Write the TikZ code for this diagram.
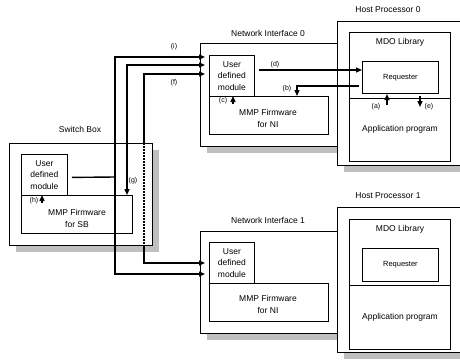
\documentclass[tikz,border=0pt]{standalone}
\usepackage{fontspec}
\setmainfont{Liberation Sans}
\usetikzlibrary{arrows.meta}

\begin{document}
\begin{tikzpicture}[x=1pt,y=-1pt,
  frame/.style={draw=black, line width=0.8pt, fill=white, inner sep=0pt, anchor=north west},
  shade/.style={fill=black!25, draw=none},
  lbl/.style={font=\fontsize{8.5}{11.5}\selectfont, inner sep=0pt, align=center},
  req/.style={font=\fontsize{7.5}{9}\selectfont},
  tag/.style={font=\fontsize{7}{8}\selectfont, inner sep=0pt},
  link/.style={line width=1.4pt},
  tip/.style={-{Triangle[length=6pt,width=5pt]}},
  tips/.style={{Triangle[length=6pt,width=5pt]}-{Triangle[length=6pt,width=5pt]}}
]
\useasboundingbox (0,0) rectangle (460,362);
\clip (0,0) rectangle (460,362);

% drop shadows
\fill[shade] (16,150) rectangle (159,252);
\fill[shade] (207,50) rectangle (344,153);
\fill[shade] (344,28) rectangle (470,172);
\fill[shade] (207,238) rectangle (344,340);
\fill[shade] (344,214) rectangle (470,359);

% Switch box
\node[frame, minimum width=143pt, minimum height=102pt] (sb) at (9,143) {};
\node[frame, minimum width=46pt, minimum height=41pt] (sbudm) at (21,154) {};
\node[frame, minimum width=111pt, minimum height=38pt] (sbmmp) at (21,195) {};
\node[lbl] (sbudmtxt) at (sbudm.center) {User\\defined\\module};
\node[lbl] (sbmmptxt) at (77,218.5) {MMP Firmware\\for SB};
\node[lbl] (sbtitle) at (80,129) {Switch Box};

% Network interface 0
\node[frame, minimum width=137pt, minimum height=103pt] (ni0) at (200,43) {};
\node[frame, minimum width=45pt, minimum height=41pt] (ni0udm) at (209,55) {};
\node[frame, minimum width=119pt, minimum height=38pt] (ni0mmp) at (209,96) {};
\node[lbl] (ni0udmtxt) at (ni0udm.center) {User\\defined\\module};
\node[lbl] (ni0mmptxt) at (268,118.5) {MMP Firmware\\for NI};
\node[lbl] (ni0title) at (268,33) {Network Interface 0};

% Network interface 1
\node[frame, minimum width=137pt, minimum height=102pt] (ni1) at (200,231) {};
\node[frame, minimum width=45pt, minimum height=41pt] (ni1udm) at (209,242) {};
\node[frame, minimum width=119pt, minimum height=38pt] (ni1mmp) at (209,283) {};
\node[lbl] (ni1udmtxt) at (ni1udm.center) {User\\defined\\module};
\node[lbl] (ni1mmptxt) at (268,304.5) {MMP Firmware\\for NI};
\node[lbl] (ni1title) at (268,220) {Network Interface 1};

% Host processor 0
\node[frame, minimum width=133pt, minimum height=144pt] (hp0) at (337,21) {};
\node[frame, minimum width=101pt, minimum height=129pt] (mdo0) at (349,32) {};
\node[frame, minimum width=76pt, minimum height=32pt, req] (req0) at (362,61) {};
\node[req] (req0txt) at (req0.center) {Requester};
\coordinate (sep0) at (349,98);
\draw[line width=0.8pt] (sep0) -- (sep0 -| mdo0.east);
\node[lbl] (mdo0txt) at (400,42) {MDO Library};
\node[lbl] (app0txt) at (400,129) {Application program};
\node[lbl] (hp0title) at (388,10) {Host Processor 0};

% Host processor 1
\node[frame, minimum width=133pt, minimum height=145pt] (hp1) at (337,207) {};
\node[frame, minimum width=101pt, minimum height=130pt] (mdo1) at (349,219) {};
\node[frame, minimum width=76pt, minimum height=33pt] (req1) at (362,248) {};
\node[req] (req1txt) at (req1.center) {Requester};
\coordinate (sep1) at (349,285);
\draw[line width=0.8pt] (sep1) -- (sep1 -| mdo1.east);
\node[lbl] (mdo1txt) at (400,229) {MDO Library};
\node[lbl] (app1txt) at (400,317) {Application program};
\node[lbl] (hp1title) at (388,196) {Host Processor 1};

% bus ends
\coordinate (ia) at (205,57);
\coordinate (ib) at (205,65);
\coordinate (ic) at (205,74);
\coordinate (ja) at (205,274);
\coordinate (jc) at (205,263);
\coordinate (gtip) at (127,195);

% bus lines between the switch box and the network interfaces
\draw[link] ([shift={(4,2.5)}]sbudm.east) -- (115,177);
\draw[link,tips] (ia) -- (115,57) -- (115,274) -- (ja);
\draw[link,tips] (ib) -- (127,65) -- (gtip);
\draw[link,tip] (144,143) -- (144,74) -- (ic);
\draw[link,dash pattern=on 1.6pt off 1.4pt] (144,143) -- (144,245);
\draw[link,tip] (144,245) -- (144,263) -- (jc);

% local arrows
\coordinate (hS) at (42,203);
\draw[link,tip] (hS) -- (hS |- sbmmp.north);
\coordinate (cS) at (233,104);
\draw[link,tip] (cS) -- (cS |- ni0mmp.north);
\coordinate (dS) at (259,70);
\draw[link,tip] (dS) -- (dS -| req0.west);
\coordinate (bS) at (359,86);
\coordinate (bE) at (297,96);
\draw[link,tip] (bS) -| (bE);
\coordinate (aS) at (387,105);
\draw[link,tip] (aS) -- (387,94);
\coordinate (eS) at (420,96);
\draw[link,tip] (eS) -- (420,107);

% arrow labels
\node[tag] (th) at (34,201) {(h)};
\node[tag] (tg) at (133,181) {(g)};
\node[tag] (ti) at (174,47) {(i)};
\node[tag] (tf) at (174,83) {(f)};
\node[tag] (td) at (275,65) {(d)};
\node[tag] (tb) at (287,89) {(b)};
\node[tag] (tc) at (223,101) {(c)};
\node[tag] (ta) at (376,107) {(a)};
\node[tag] (te) at (429,107) {(e)};
\end{tikzpicture}
\end{document}
